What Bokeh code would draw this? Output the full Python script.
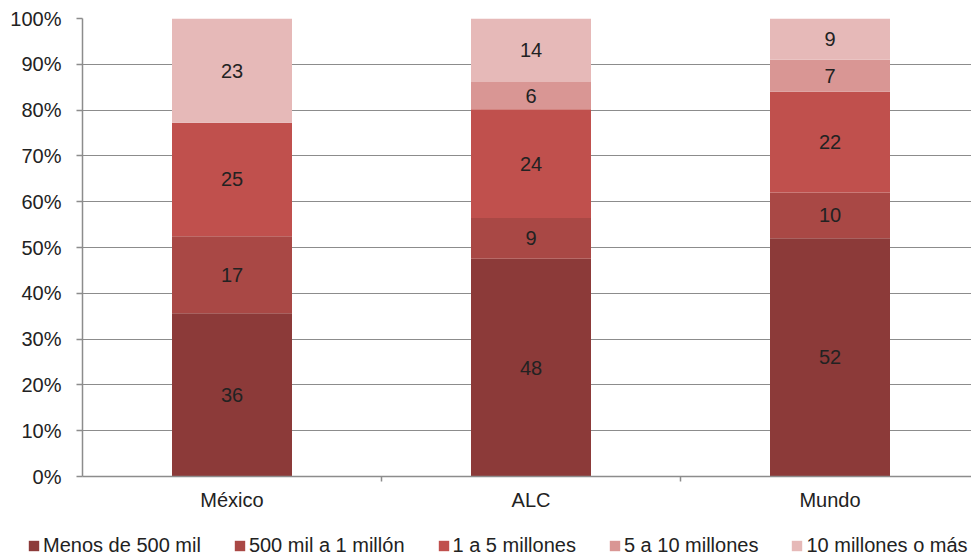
from bokeh.plotting import figure
from bokeh.layouts import column, row
from bokeh.models import (ColumnDataSource, Range1d, FixedTicker, NumeralTickFormatter,
                          Legend, LegendItem)
from bokeh.core.properties import value
from bokeh.embed import file_html
from bokeh.resources import INLINE

# ---- data ----
categories = ["México", "ALC", "Mundo"]
series = ["Menos de 500 mil", "500 mil a 1 millón", "1 a 5 millones",
          "5 a 10 millones", "10 millones o más"]
menos_500mil = [36, 48, 52]
de_500mil_a_1millon = [17, 9, 10]
de_1_a_5millones = [25, 24, 22]
de_5_a_10millones = [0, 6, 7]
de_10millones_o_mas = [23, 14, 9]
colors = ["#8C3A39", "#A94845", "#C0504D", "#D99694", "#E6B9B8"]
y_ticks = [0.0, 0.1, 0.2, 0.3, 0.4, 0.5, 0.6, 0.7, 0.8, 0.9, 1.0]

values = [menos_500mil, de_500mil_a_1millon, de_1_a_5millones,
          de_5_a_10millones, de_10millones_o_mas]

FONT = "Liberation Sans"
GREY = "#8c8c8c"
TXT = "#222222"

n = len(categories)
xpos = [i + 0.5 for i in range(n)]
totals = [sum(v[i] for v in values) for i in range(n)]

keys = [f"s{k}" for k in range(len(series))]
data = {"x": xpos}
for k, v in zip(keys, values):
    data[k] = [v[i] / totals[i] for i in range(n)]
src = ColumnDataSource(data)

# label positions (centre of each segment)
lx, ly, lt = [], [], []
for i in range(n):
    bottom = 0.0
    for v in values:
        share = v[i] / totals[i]
        if v[i] > 0:
            lx.append(xpos[i])
            ly.append(bottom + share / 2)
            lt.append(str(v[i]))
        bottom += share
lsrc = ColumnDataSource(dict(x=lx, y=ly, t=lt))

W = 971
H_MAIN = 516
H_LEG = 41
left_border = 82
px_per_cat = 299
frame_w = W - left_border

p = figure(width=W, height=H_MAIN, x_range=Range1d(0, frame_w / px_per_cat),
           y_range=Range1d(0, 1), output_backend="svg", toolbar_location=None,
           min_border_left=left_border, min_border_right=0, min_border_top=18,
           min_border_bottom=H_MAIN - 476)
p.outline_line_color = None
p.background_fill_color = "white"

rs = p.vbar_stack(keys, x="x", width=120 / px_per_cat, color=colors,
                  line_color=None, source=src)

p.text(x="x", y="y", text="t", source=lsrc, text_align="center",
       text_baseline="middle", text_font=value(FONT), text_font_size="20px",
       text_color=TXT)

# y axis
p.yaxis.ticker = FixedTicker(ticks=y_ticks)
p.yaxis.formatter = NumeralTickFormatter(format="0%")
p.yaxis.axis_line_color = GREY
p.yaxis.axis_line_width = 1.5
p.yaxis.major_tick_line_color = GREY
p.yaxis.major_tick_line_width = 1.5
p.yaxis.major_tick_out = 6
p.yaxis.major_tick_in = 0
p.yaxis.minor_tick_line_color = None
p.yaxis.major_label_text_font = FONT
p.yaxis.major_label_text_font_size = "20px"
p.yaxis.major_label_text_color = TXT
p.yaxis.major_label_standoff = 15

# x axis
p.xaxis.ticker = FixedTicker(ticks=xpos, minor_ticks=[1, 2])
p.xaxis.major_label_overrides = {x: c for x, c in zip(xpos, categories)}
p.xaxis.axis_line_color = GREY
p.xaxis.axis_line_width = 1.5
p.xaxis.major_tick_line_color = None
p.xaxis.major_tick_out = 0
p.xaxis.major_tick_in = 0
p.xaxis.minor_tick_line_color = GREY
p.xaxis.minor_tick_line_width = 1.5
p.xaxis.minor_tick_out = 5
p.xaxis.minor_tick_in = 0
p.xaxis.major_label_text_font = FONT
p.xaxis.major_label_text_font_size = "20px"
p.xaxis.major_label_text_color = TXT
p.xaxis.major_label_standoff = 7

p.xgrid.visible = False
p.ygrid.ticker = FixedTicker(ticks=y_ticks)
p.ygrid.grid_line_color = GREY
p.ygrid.grid_line_width = 1.2

# ---- legend strip (a frame-only figure holding the legend) ----
pl = figure(width=W, height=H_LEG, output_backend="svg", toolbar_location=None,
            x_range=Range1d(0, 1), y_range=Range1d(0, 1),
            min_border=0, min_border_left=0, min_border_right=0,
            x_axis_type=None, y_axis_type=None)
pl.outline_line_color = None
pl.xgrid.visible = False
pl.ygrid.visible = False
# swatch renderers kept outside the visible range; only their legend glyphs show
leg_rs = [pl.quad(left=[-3], right=[-2], bottom=[-3], top=[-2], color=c, line_color=None)
          for c in colors]

legend = Legend(items=[LegendItem(label=s, renderers=[r]) for s, r in zip(series, leg_rs)],
                orientation="horizontal", location=(27, 0),
                border_line_alpha=0, background_fill_alpha=0, padding=0, margin=0,
                spacing=32, glyph_width=13, glyph_height=13, label_standoff=3,
                label_text_font=FONT, label_text_font_size="20px",
                label_text_color=TXT)
pl.add_layout(legend, "center")

layout = column(p, row(pl), spacing=0)
open("out.html", "w").write(file_html(layout, INLINE))
